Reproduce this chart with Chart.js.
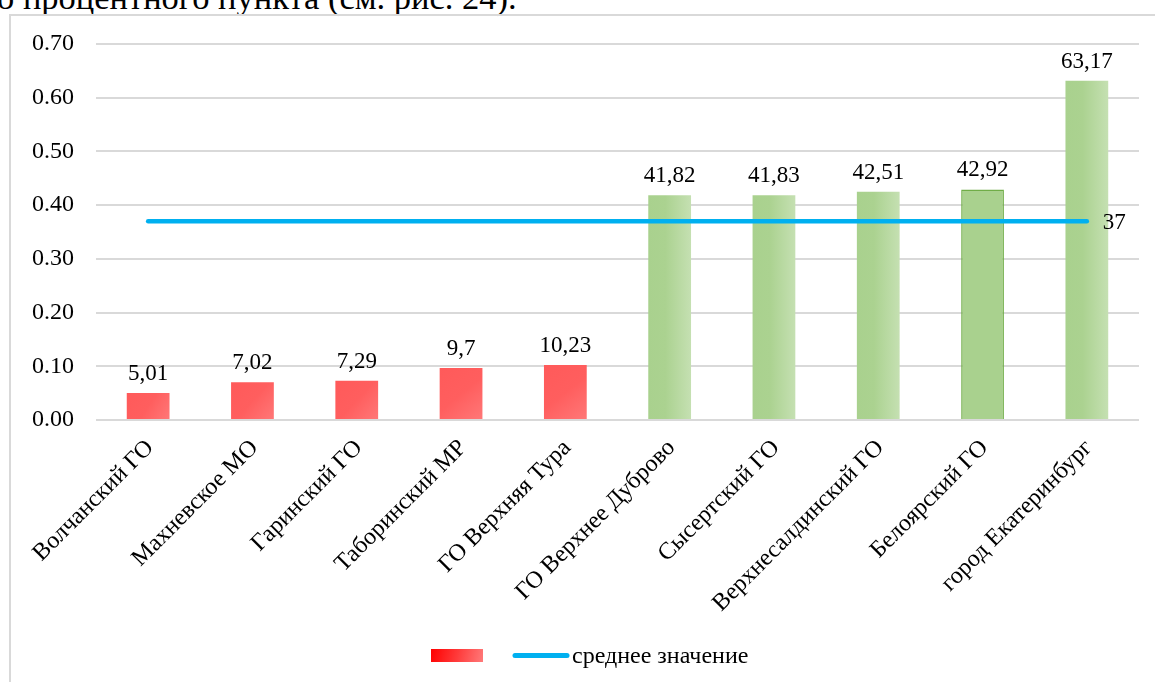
<!DOCTYPE html>
<html>
<head>
<meta charset="utf-8">
<script src="https://cdn.jsdelivr.net/npm/chart.js@4/dist/chart.umd.min.js"></script>
<style>
  html, body { margin: 0; padding: 0; background: #fff; overflow: hidden; }
  #page { position: relative; width: 1155px; height: 682px; overflow: hidden; }
  #caption { position: absolute; left: -3px; top: -20px; font-family: 'Liberation Serif', serif; font-size: 34.5px; line-height: 34.5px; color: #000; white-space: nowrap; }
  #frame { position: absolute; left: 9px; top: 14px; width: 1200px; height: 700px; border: 2px solid #d9d9d9; box-sizing: border-box; }
  #wrap { position: absolute; left: 0; top: 0; width: 1155px; height: 682px; }
</style>
</head>
<body>
<div id="page">
  <div id="caption">о процентного пункта (см. рис. 24).</div>
  <div id="frame"></div>
  <div id="wrap"><canvas id="c"></canvas></div>
</div>
<script>
const categories = ['Волчанский ГО', 'Махневское МО', 'Гаринский ГО', 'Таборинский МР', 'ГО Верхняя Тура',
  'ГО Верхнее Дуброво', 'Сысертский ГО', 'Верхнесалдинский ГО', 'Белоярский ГО', 'город Екатеринбург'];
const shareValues = [0.0501, 0.0702, 0.0729, 0.097, 0.1023, 0.4182, 0.4183, 0.4251, 0.4292, 0.6317];
const groupKind = ['low', 'low', 'low', 'low', 'low', 'high', 'high', 'high', 'high', 'high'];
const meanValues = [0.37, 0.37, 0.37, 0.37, 0.37, 0.37, 0.37, 0.37, 0.37, 0.37];
const meanLabel = 'среднее значение';
const yTickValues = [0, 0.1, 0.2, 0.3, 0.4, 0.5, 0.6, 0.7];

const FONT = "'Liberation Serif', 'Times New Roman', serif";
const fmt = v => String(Number((v * 100).toFixed(2))).replace('.', ',');

function barFill(c) {
  const chart = c.chart;
  const i = c.dataIndex;
  const kind = groupKind[i];
  const fallback = kind === 'low' ? '#ff5c5c' : '#a9d18e';
  const xs = chart.scales.x, ys = chart.scales.y;
  if (!chart.chartArea || !xs || !ys) return fallback;
  const cx = xs.getPixelForValue(i);
  const half = xs.width / categories.length * 0.41 / 2;
  const top = ys.getPixelForValue(shareValues[i]);
  const bottom = ys.getPixelForValue(0);
  if (!isFinite(cx) || !isFinite(top)) return fallback;
  const ctx = chart.ctx;
  if (kind === 'low') {
    const g = ctx.createLinearGradient(cx - half, top, cx + half, bottom);
    g.addColorStop(0, '#ff5a5a');
    g.addColorStop(0.5, '#ff5e5e');
    g.addColorStop(1, '#ff7878');
    return g;
  }
  if (i === 8) return '#a9d18e';
  const g = ctx.createLinearGradient(cx - half, 0, cx + half, 0);
  g.addColorStop(0, '#a9d18e');
  g.addColorStop(0.4, '#abd290');
  g.addColorStop(1, '#c5e0b2');
  return g;
}

const labelPlugin = {
  id: 'valueLabels',
  afterDatasetsDraw(chart) {
    const ctx = chart.ctx;
    ctx.save();
    ctx.font = '23px ' + FONT;
    ctx.fillStyle = '#000';
    ctx.textAlign = 'center';
    ctx.textBaseline = 'alphabetic';
    const meta = chart.getDatasetMeta(0);
    meta.data.forEach((bar, i) => {
      ctx.fillText(fmt(shareValues[i]), bar.x, bar.y - 13);
    });
    const lm = chart.getDatasetMeta(1);
    const last = lm.data[lm.data.length - 1];
    ctx.textAlign = 'left';
    ctx.textBaseline = 'middle';
    ctx.fillText(fmt(meanValues[meanValues.length - 1]), last.x + 16, last.y + 2);
    ctx.restore();
  }
};

const legendPlugin = {
  id: 'customLegend',
  afterDraw(chart) {
    const ctx = chart.ctx;
    ctx.save();
    const g = ctx.createLinearGradient(431, 649, 483, 662);
    g.addColorStop(0, '#ff0000');
    g.addColorStop(0.5, '#ff3a3a');
    g.addColorStop(1, '#ff7a7a');
    ctx.fillStyle = g;
    ctx.fillRect(431, 649, 52, 13);
    ctx.strokeStyle = '#00b0f0';
    ctx.lineWidth = 5;
    ctx.lineCap = 'round';
    ctx.beginPath();
    ctx.moveTo(515, 655.5);
    ctx.lineTo(567, 655.5);
    ctx.stroke();
    ctx.fillStyle = '#000';
    ctx.font = '24px ' + FONT;
    ctx.textAlign = 'left';
    ctx.textBaseline = 'middle';
    ctx.fillText(meanLabel, 572, 657);
    ctx.restore();
  }
};

new Chart(document.getElementById('c'), {
  data: {
    labels: categories,
    datasets: [
      {
        type: 'bar',
        label: '',
        data: shareValues,
        backgroundColor: barFill,
        borderColor: shareValues.map((v, i) => i === 8 ? '#70ad47' : 'rgba(0,0,0,0)'),
        borderWidth: shareValues.map((v, i) => i === 8 ? 1.5 : 0),
        categoryPercentage: 1,
        barPercentage: 0.41,
        order: 2
      },
      {
        type: 'line',
        label: meanLabel,
        data: meanValues,
        borderColor: '#00b0f0',
        borderWidth: 4.5,
        borderCapStyle: 'round',
        pointRadius: 0,
        fill: false,
        order: 1
      }
    ]
  },
  options: {
    responsive: true,
    maintainAspectRatio: false,
    animation: false,
    layout: { padding: { left: 0, top: 44, right: 16, bottom: 0 } },
    plugins: { legend: { display: false }, tooltip: { enabled: false } },
    scales: {
      x: {
        grid: { display: false },
        border: { display: false },
        ticks: {
          autoSkip: false,
          maxRotation: 45,
          minRotation: 45,
          padding: 6,
          labelOffset: 2,
          color: '#000',
          font: { family: FONT, size: 24 }
        },
        afterFit(s) { s.height = 262; }
      },
      y: {
        min: 0,
        max: 0.7,
        afterBuildTicks(s) { s.ticks = yTickValues.map(v => ({ value: v })); },
        grid: { color: '#d9d9d9', lineWidth: 2, drawTicks: false },
        border: { display: false },
        ticks: {
          padding: 22,
          color: '#000',
          font: { family: FONT, size: 24 },
          callback: v => Number(v).toFixed(2)
        },
        afterFit(s) { s.width = 96; }
      }
    }
  },
  plugins: [labelPlugin, legendPlugin]
});
</script>
</body>
</html>
